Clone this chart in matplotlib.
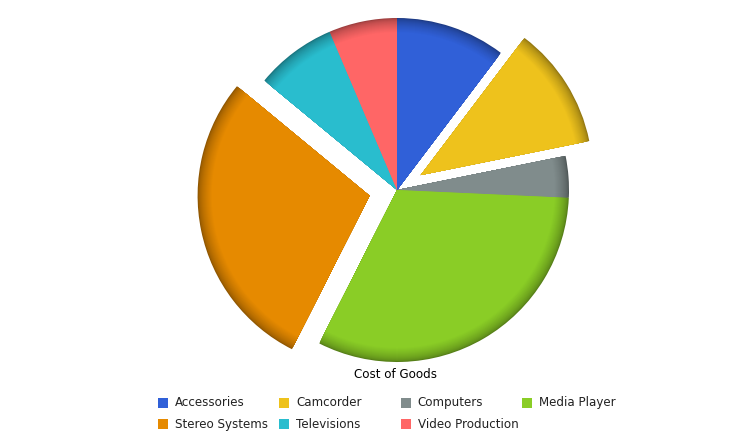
import numpy as np
from matplotlib import pyplot as plt
from matplotlib.patches import Rectangle

categories = ["Accessories", "Camcorder", "Computers", "Media Player",
              "Stereo Systems", "Televisions", "Video Production"]
costs = [10.3, 11.5, 3.9, 31.7, 28.5, 7.6, 6.4]
exploded = [0, 1, 0, 0, 1, 0, 0]
colors = ["#3060D8", "#EEC21C", "#808C8C", "#8ACD26",
          "#E68A00", "#29BDCE", "#FF6666"]
title = "Cost of Goods"

W, H = 733, 438
CENTER = (397, H - 190)
RADIUS = 172
EXPLODE_PX = 28
RIM = 14


def shade(color, f):
    rgb = np.array(plt.matplotlib.colors.to_rgb(color))
    return tuple(np.clip(rgb * f, 0, 1))


fig = plt.figure(figsize=(W / 100, H / 100), dpi=100)
ax = fig.add_axes([0, 0, 1, 1])

explode = [e * EXPLODE_PX for e in exploded]
# outer bevel: stack of slightly smaller pies going from dark to base colour
for k in range(RIM + 1):
    t = k / RIM
    f = 0.62 + 0.38 * t ** 0.6
    ax.pie(costs, explode=explode, colors=[shade(c, f) for c in colors],
           startangle=90, counterclock=False, center=CENTER,
           radius=RADIUS - k, wedgeprops={"linewidth": 0})

ax.set_xlim(0, W)
ax.set_ylim(0, H)
ax.set_aspect("auto")
ax.axis("off")

ax.text(396, H - 375, title, ha="center", va="center", fontsize=8.6,
        family="DejaVu Sans")

for i, (name, color) in enumerate(zip(categories, colors)):
    col, row = i % 4, i // 4
    x = 158 + col * 121.3
    y = H - (402.5 + row * 21.6)
    ax.add_patch(Rectangle((x, y - 5), 10, 10, facecolor=color, linewidth=0))
    ax.text(x + 17, y, name, ha="left", va="center", fontsize=8.6,
            color="#222222", family="DejaVu Sans")

fig.savefig("out.png", dpi=100)
